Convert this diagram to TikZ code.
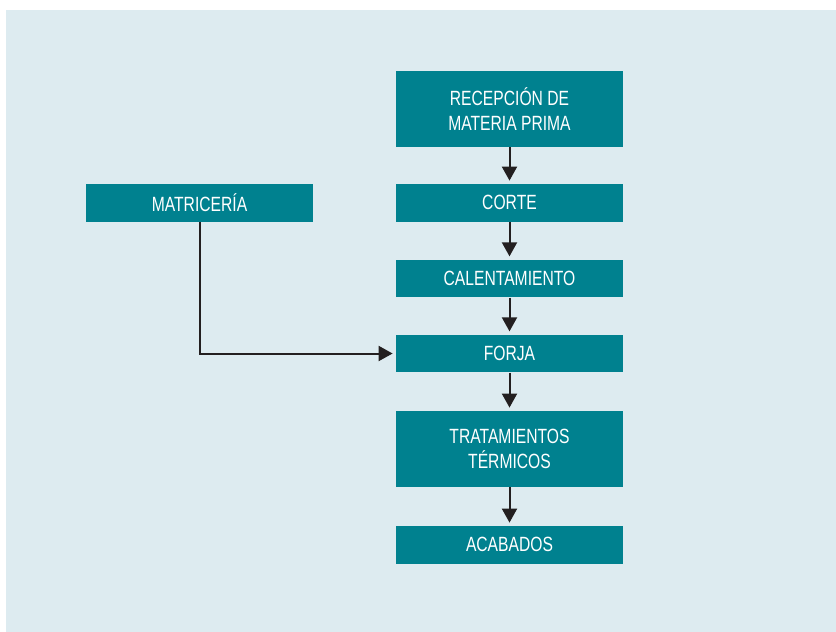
\documentclass[tikz,border=0pt]{standalone}
\usepackage{fontspec}
\setmainfont{Liberation Sans}[FakeStretch=0.76]
\usetikzlibrary{arrows.meta}
\definecolor{fondo}{HTML}{DDEBF0}
\definecolor{verdeazul}{HTML}{00818F}
\definecolor{flecha}{HTML}{231F20}
\begin{document}
\begin{tikzpicture}[x=0.5pt, y=-0.5pt,
    etapa/.style={fill=verdeazul, text=white, minimum width=113.5pt, minimum height=18.75pt,
        inner sep=0pt, align=center, font=\fontsize{10.3}{12.2}\selectfont},
    etapados/.style={etapa, minimum height=37.75pt},
    flujo/.style={-{Triangle[length=7pt, width=7.5pt]}, line width=1pt, draw=flecha, shorten >=1.5pt}]
        % Fondo
        \useasboundingbox (0,0) rectangle (836,632);
        \fill[white] (0,0) rectangle (836,632);
        \fill[fondo] (6,10) rectangle (836,632);
        
        % Etapas del proceso
        \node[etapados] (recepcion) at (509.5,109) {RECEPCIÓN DE\\MATERIA PRIMA};
        \node[etapa] (corte) at (509.5,202.75) {CORTE};
        \node[etapa] (calentamiento) at (509.5,278.5) {CALENTAMIENTO};
        \node[etapa] (forja) at (509.5,353.5) {FORJA};
        \node[etapados] (tratamientos) at (509.5,448.75) {TRATAMIENTOS\\TÉRMICOS};
        \node[etapa] (acabados) at (509.5,544.75) {ACABADOS};
        \node[etapa] (matriceria) at (199.5,202.75) {MATRICERÍA};
        
        % Flechas
        \draw[flujo] (recepcion) -- (corte);
        \draw[flujo] (corte) -- (calentamiento);
        \draw[flujo] (calentamiento) -- (forja);
        \draw[flujo] (forja) -- (tratamientos);
        \draw[flujo] (tratamientos) -- (acabados);
        \draw[flujo] (matriceria.south) |- (forja.west);
    \end{tikzpicture}
\end{document}
